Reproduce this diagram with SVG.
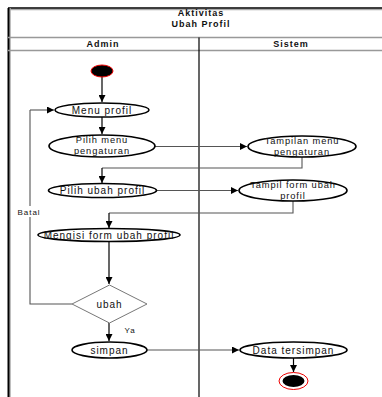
<svg xmlns="http://www.w3.org/2000/svg" width="382" height="397" viewBox="0 0 382 397">
  <style>
    .t { font-family: "Liberation Sans", Arial, sans-serif; font-size: 10px; letter-spacing: 1px; fill: #111; text-anchor: middle; }
    .t2 { font-size: 9.3px; letter-spacing: 0.9px; }
    .h { font-family: "Liberation Sans", Arial, sans-serif; font-size: 9px; font-weight: bold; letter-spacing: 1px; fill: #111; text-anchor: middle; }
    .act { fill: #fff; stroke: #000; stroke-width: 1.6; }
    .c { fill: none; stroke: #555; stroke-width: 1.1; }
    .v { fill: none; stroke: #000; stroke-width: 1.2; }
  </style>
  <defs>
    <marker id="arr" viewBox="0 0 10 10" refX="10" refY="5" markerWidth="7" markerHeight="7" orient="auto" markerUnits="userSpaceOnUse">
      <path d="M0,0 L10,5 L0,10 Z" fill="#000"/>
    </marker>
  </defs>

  <rect width="382" height="397" fill="#fff"/>

  <!-- frame and swimlanes -->
  <g id="frame">
    <line x1="8" y1="9.5" x2="382" y2="9.5" stroke="#aaa" stroke-width="1.5"/>
    <line x1="8" y1="8" x2="382" y2="8" stroke="#000" stroke-width="1.6"/>
    <line x1="10" y1="8" x2="10" y2="397" stroke="#aaa" stroke-width="1.5"/>
    <line x1="8.5" y1="8" x2="8.5" y2="397" stroke="#000" stroke-width="2"/>
    <line x1="8" y1="37.5" x2="382" y2="37.5" stroke="#999" stroke-width="1.6"/>
    <line x1="8" y1="50.5" x2="382" y2="50.5" stroke="#999" stroke-width="1.6"/>
    <line x1="199" y1="37.5" x2="199" y2="397" stroke="#000" stroke-width="1.2"/>
    <text class="h" x="201" y="16">Aktivitas</text>
    <text class="h" x="201" y="26.5">Ubah Profil</text>
    <text class="h" x="103" y="47">Admin</text>
    <text class="h" x="291" y="47">Sistem</text>
  </g>

  <!-- connectors -->
  <g id="connectors">
    <line class="v" x1="102" y1="77" x2="102" y2="102" marker-end="url(#arr)"/>
    <line class="v" x1="102" y1="117" x2="102" y2="134" marker-end="url(#arr)"/>
    <line class="c" x1="155" y1="146.5" x2="247" y2="146.5" marker-end="url(#arr)"/>
    <polyline class="c" points="302,157 302,168 102,168"/>
    <line class="v" x1="102" y1="168" x2="102" y2="183" marker-end="url(#arr)"/>
    <line class="c" x1="157" y1="190.5" x2="238" y2="190.5" marker-end="url(#arr)"/>
    <polyline class="c" points="293,201 293,213 109,213"/>
    <line class="v" x1="109" y1="213" x2="109" y2="228" marker-end="url(#arr)"/>
    <line class="v" x1="109" y1="241.5" x2="109" y2="284" marker-end="url(#arr)"/>
    <polyline class="c" points="72,304 30,304 30,110" />
    <line class="c" x1="30" y1="110" x2="54" y2="110" marker-end="url(#arr)"/>
    <line class="v" x1="109" y1="323" x2="109" y2="341" marker-end="url(#arr)"/>
    <line class="c" x1="147" y1="350" x2="239" y2="350" marker-end="url(#arr)"/>
    <line class="v" x1="293.5" y1="358" x2="293.5" y2="372" marker-end="url(#arr)"/>
    <rect x="16" y="206" width="26" height="11" fill="#fff"/>
    <text class="t" x="29" y="215" style="font-size:8px">Batal</text>
    <text class="t" x="130" y="333" style="font-size:8px">Ya</text>
  </g>

  <g id="start">
    <ellipse cx="102" cy="71" rx="11" ry="6" fill="#000" stroke="#e00" stroke-width="1"/>
  </g>

  <g id="menu-profil">
    <ellipse class="act" cx="102" cy="110" rx="47" ry="7"/>
    <text class="t" x="102" y="113.5">Menu profil</text>
  </g>

  <g id="pilih-menu-pengaturan">
    <ellipse class="act" cx="102" cy="146" rx="53" ry="11"/>
    <text class="t t2" x="102" y="143">Pilih menu</text>
    <text class="t t2" x="102" y="154">pengaturan</text>
  </g>

  <g id="tampilan-menu-pengaturan">
    <ellipse class="act" cx="302" cy="146.5" rx="54" ry="10.5"/>
    <text class="t t2" x="302" y="143.5">Tampilan menu</text>
    <text class="t t2" x="302" y="154.5">pengaturan</text>
  </g>

  <g id="pilih-ubah-profil">
    <ellipse class="act" cx="102.5" cy="190.5" rx="54" ry="7"/>
    <text class="t" x="102.5" y="194">Pilih ubah profil</text>
  </g>

  <g id="tampil-form-ubah-profil">
    <ellipse class="act" cx="293" cy="190.5" rx="54" ry="10.5"/>
    <text class="t t2" x="293" y="187.5">Tampil form ubah</text>
    <text class="t t2" x="293" y="198.5">profil</text>
  </g>

  <g id="mengisi-form-ubah-profil">
    <ellipse class="act" cx="109" cy="235" rx="71" ry="6.5"/>
    <text class="t" x="109" y="238.5">Mengisi form ubah profil</text>
  </g>

  <g id="ubah">
    <polygon points="109.5,285 147,304 109.5,323 72,304" fill="#fff" stroke="#777" stroke-width="1"/>
    <text class="t" x="109.5" y="307.5">ubah</text>
  </g>

  <g id="simpan">
    <ellipse class="act" cx="109.5" cy="350" rx="37.5" ry="8"/>
    <text class="t" x="109.5" y="353.5">simpan</text>
  </g>

  <g id="data-tersimpan">
    <ellipse class="act" cx="293.5" cy="350" rx="53.5" ry="8"/>
    <text class="t" x="293.5" y="353.5">Data tersimpan</text>
  </g>

  <g id="end">
    <ellipse cx="293.5" cy="381" rx="14.5" ry="8.5" fill="#fff" stroke="#e00" stroke-width="1"/>
    <ellipse cx="293.5" cy="381" rx="11" ry="6" fill="#000"/>
  </g>
</svg>
